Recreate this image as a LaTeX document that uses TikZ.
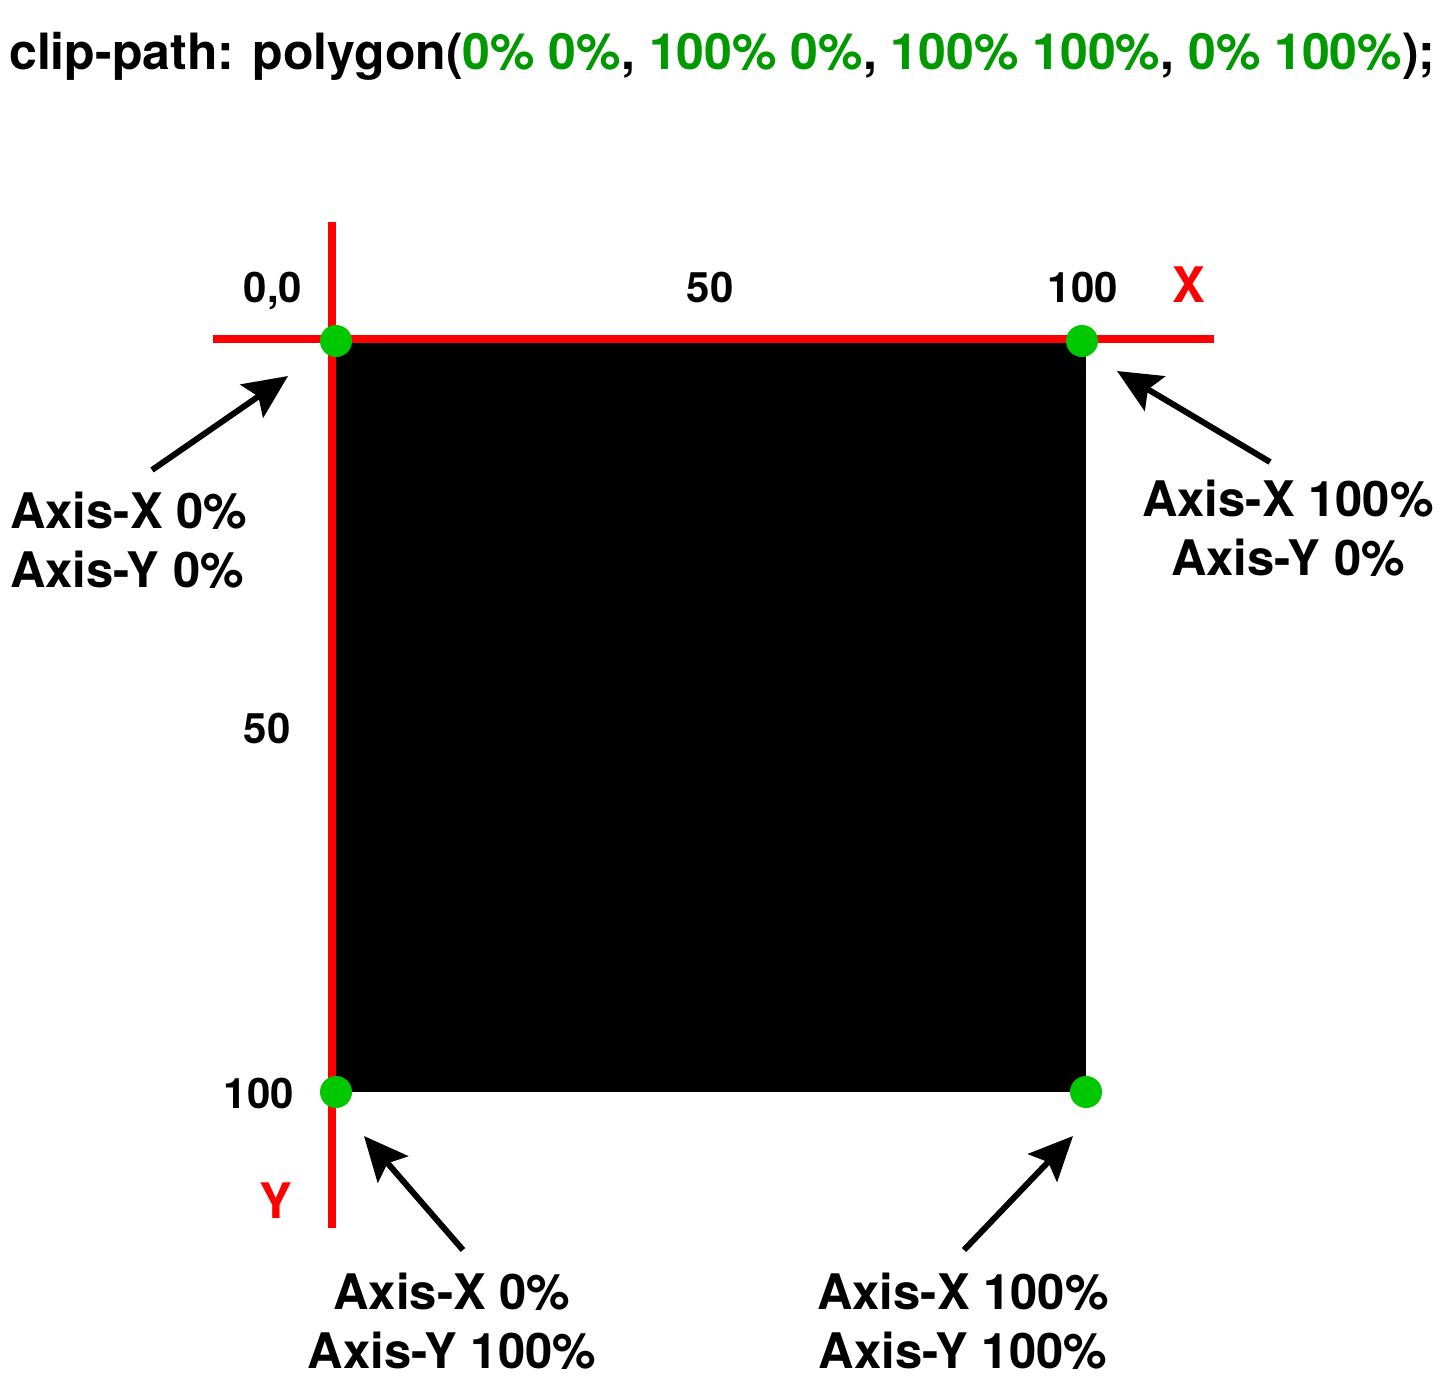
\documentclass[tikz,border=0pt]{standalone}
\usepackage{fontspec}
\setmainfont{TeX Gyre Heros}
\usetikzlibrary{arrows.meta}
\definecolor{axisred}{HTML}{FF0000}
\definecolor{dotgreen}{HTML}{00C800}
\definecolor{txtgreen}{HTML}{009A00}
\begin{document}
\begin{tikzpicture}[x=1pt,y=-1pt,
  axis/.style={draw=axisred,line width=8pt},
  dot/.style={circle,fill=dotgreen,minimum size=32pt,inner sep=0pt},
  tick/.style={font=\fontsize{42}{42}\selectfont\bfseries,anchor=base,inner sep=0pt},
  axlbl/.style={font=\fontsize{49}{49}\selectfont\bfseries,text=axisred,anchor=base,inner sep=0pt},
  big/.style={font=\fontsize{49}{59}\selectfont\bfseries,inner sep=0pt,anchor=base},
  pointer/.style={line width=6pt,-{Stealth[length=44pt,width=40pt,inset=8pt]}}]
\useasboundingbox (0,0) rectangle (1450,1381);
% header
\node[font=\fontsize{50}{50}\selectfont\bfseries,anchor=base west,inner sep=0pt] (hdr) at (9,70)
  {clip-path: polygon(\textcolor{txtgreen}{0\% 0\%}, \textcolor{txtgreen}{100\% 0\%}, \textcolor{txtgreen}{100\% 100\%}, \textcolor{txtgreen}{0\% 100\%});};
% square
\fill[black] (336,340) rectangle (1086,1092);
% axes
\draw[axis] (213,339) -- (1214,339);
\draw[axis] (332,222) -- (332,1228);
% dots
\node[dot] (tl) at (336,341) {};
\node[dot] (tr) at (1082,341) {};
\node[dot] (bl) at (336,1092) {};
\node[dot] (br) at (1086,1092) {};
% ticks
\node[tick] (t00) at (273,302) {0,0};
\node[tick] (t50x) at (710,302) {50};
\node[tick] (t100x) at (1083,302) {100};
\node[axlbl] (xl) at (1189,302) {X};
\node[tick] (t50y) at (267,743) {50};
\node[tick] (t100y) at (259,1108) {100};
\node[axlbl] (yl) at (276,1218) {Y};
% labels (base = baseline of last line)
\node[big,align=left,anchor=base west] (ltl) at (10,587) {Axis-X 0\%\\Axis-Y 0\%};
\node[big,align=center] (ltr) at (1288,575) {Axis-X 100\%\\Axis-Y 0\%};
\node[big,align=center] (lbl) at (452,1368) {Axis-X 0\%\\Axis-Y 100\%};
\node[big,align=center] (lbr) at (963,1368) {Axis-X 100\%\\Axis-Y 100\%};
% arrows
\coordinate (atl0) at (152,470); \coordinate (atl1) at (288,376);
\coordinate (atr0) at (1270,462); \coordinate (atr1) at (1117,371);
\coordinate (abl0) at (463,1250); \coordinate (abl1) at (364,1136);
\coordinate (abr0) at (964,1250); \coordinate (abr1) at (1073,1136);
\draw[pointer] (atl0) -- (atl1);
\draw[pointer] (atr0) -- (atr1);
\draw[pointer] (abl0) -- (abl1);
\draw[pointer] (abr0) -- (abr1);
\end{tikzpicture}
\end{document}
